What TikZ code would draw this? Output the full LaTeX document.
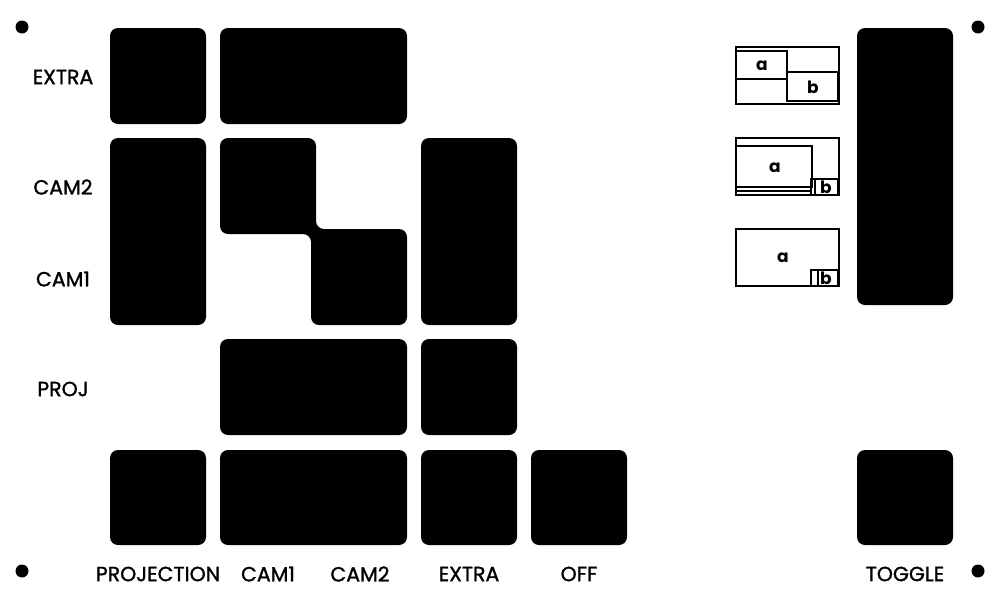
\documentclass[tikz,border=0pt]{standalone}
\usepackage{fontspec}
\setmainfont{Poppins}
\newfontfamily\medfont[FakeBold=1.3]{Poppins}
\begin{document}
\begin{tikzpicture}[x=1pt,y=-1pt,
  blk/.style={fill=black,rounded corners=8pt},
  hole/.style={fill=black},
  lbl/.style={font=\medfont\fontsize{20.5}{22}\selectfont,inner sep=0pt,anchor=center},
  ic/.style={draw=black,line width=1.9pt},
  icl/.style={font=\fontsize{17}{18}\selectfont\bfseries,inner sep=0pt}]
\useasboundingbox (0,0) rectangle (1000,598);
% mounting holes
\fill[hole] (22,27) circle (6.5);
\fill[hole] (978,27) circle (6.5);
\fill[hole] (22,571) circle (6.5);
\fill[hole] (978,571) circle (6.5);
% row EXTRA
\fill[blk] (110,28) rectangle (206,124);
\fill[blk] (220,28) rectangle (407,124);
% CAM2/CAM1
\fill[blk] (110,138) rectangle (206,325);
\fill[blk] (220,138) -- (316,138) -- (316,229) -- (407,229) -- (407,325) -- (311,325) -- (311,234) -- (220,234) -- cycle;
\fill[blk] (421,138) rectangle (517,325);
% PROJ
\fill[blk] (220,339) rectangle (407,435);
\fill[blk] (421,339) rectangle (517,435);
% bottom row
\fill[blk] (110,450) rectangle (206,545);
\fill[blk] (220,450) rectangle (407,545);
\fill[blk] (421,450) rectangle (517,545);
\fill[blk] (531,450) rectangle (627,545);
\fill[blk] (857,450) rectangle (953,545);
% toggle
\fill[blk] (857,28) rectangle (953,305);
% row labels
\node[lbl] (lextra) at (63,77) {EXTRA};
\node[lbl] (lcam2) at (63,187) {CAM2};
\node[lbl] (lcam1) at (63,279) {CAM1};
\node[lbl] (lproj) at (63,389) {PROJ};
% column labels
\node[lbl] (bproj) at (158,574) {PROJECTION};
\node[lbl] (bcam1) at (268,574) {CAM1};
\node[lbl] (bcam2) at (360,574) {CAM2};
\node[lbl] (bextra) at (469,574) {EXTRA};
\node[lbl] (boff) at (579,574) {OFF};
\node[lbl] (btog) at (905,574) {TOGGLE};
% icon 1
\draw[ic] (736,47) rectangle (839,104);
\draw[ic] (736,51) rectangle (787,79);
\draw[ic] (787,72) rectangle (838,101);
\node[icl] (i1a) at (762,66) {a};
\node[icl] (i1b) at (813,87) {b};
% icon 2
\draw[ic] (736,138) rectangle (839,195);
\draw[ic] (736,146) rectangle (812,187);
\draw[ic] (736,191) -- (811,191);
\draw[ic] (811,179) rectangle (838,195);
\draw[ic] (815,179) -- (815,195);
\node[icl] (i2a) at (775,168) {a};
\node[icl] (i2b) at (826,187) {b};
% icon 3
\draw[ic] (736,229) rectangle (839,286);
\draw[ic] (811,270) rectangle (838,286);
\draw[ic] (818,270) -- (818,286);
\node[icl] (i3a) at (783,258) {a};
\node[icl] (i3b) at (826,278) {b};
\end{tikzpicture}
\end{document}
